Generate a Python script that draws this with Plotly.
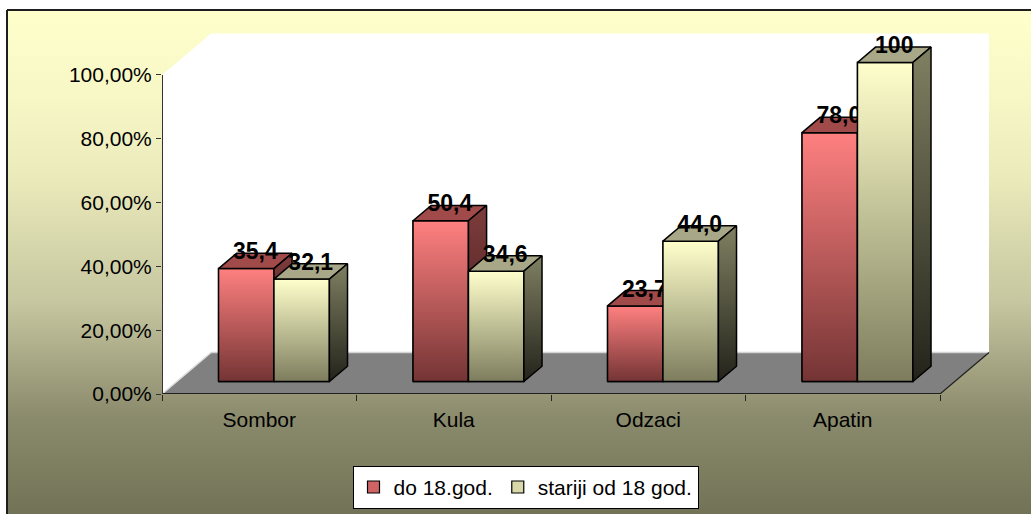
import plotly.graph_objects as go

# ---------------- data ----------------
categories = ["Sombor", "Kula", "Odzaci", "Apatin"]
series_names = ["do 18.god.", "stariji od 18 god."]
under18 = [35.4, 50.4, 23.7, 78.0]
over18 = [32.1, 34.6, 44.0, 100.0]
ytick_vals = [0, 20, 40, 60, 80, 100]
ytick_text = ["0,00%", "20,00%", "40,00%", "60,00%", "80,00%", "100,00%"]

# ---------------- style / geometry ----------------
W, H = 1031, 514
DX = 0.252          # full depth x-offset (category units)
DY = 13.0           # full depth y-offset (% units)
F0, F1 = 0.30, 0.67 # bar front / back depth fractions
BW = 0.285          # bar width (category units)
XR = [-0.5, 3.76]
YR = [0, 113.45]
PX0, PXU = 162, 194.5      # pixel of x=-0.5, pixels per category unit
PY0, PYU = 394, 3.191      # pixel of y=0, pixels per %

FONT = "Liberation Sans, Arial, sans-serif"
LBLFONT = "Liberation Sans Narrow, Arial Narrow, Liberation Sans, Arial, sans-serif"

series = [
    dict(name=series_names[0], values=under18, side=-1,
         front=["#743434", "#FF8080"], top="#A04A4A", sidecol=["#3A1A1A", "#7F3C3C"],
         legend="#D06464"),
    dict(name=series_names[1], values=over18, side=1,
         front=["#7D7D5E", "#FFFFCC"], top="#A8A888", sidecol=["#23231B", "#808062"],
         legend="#D8D8A8"),
]


def fmt(v):
    return "100" if v >= 100 else f"{v:.1f}".replace(".", ",")


fig = go.Figure()

# ---- chart-area background (gradient) on a pixel subplot ----
fig.add_trace(go.Scatter(
    x=[7, 1045, 1045, 7, 7], y=[H - 10, H - 10, -10, -10, H - 10],
    mode="lines", fill="toself",
    line=dict(color="#1E1E1E", width=2),
    fillgradient=dict(type="vertical", start=0, stop=H - 10,
                      colorscale=[[0.0, "#727256"], [0.19, "#8A8A6C"],
                                  [0.42, "#C6C6A0"], [0.66, "#E9E9BA"],
                                  [0.82, "#F7F7C6"], [1.0, "#FFFFCC"]]),
    hoverinfo="skip", showlegend=False, xaxis="x", yaxis="y"))

base = F0 * DY
ddx, ddy = (F1 - F0) * DX, (F1 - F0) * DY

# ---- legend / semantic bars ----
for s in series:
    off = F0 * DX - BW if s["side"] < 0 else F0 * DX
    fig.add_trace(go.Bar(
        x=list(range(len(categories))), y=s["values"], base=[base] * len(categories),
        width=BW, offset=off, name=s["name"],
        marker=dict(color=s["legend"], line=dict(color="black", width=1.2)),
        hoverinfo="skip", xaxis="x2", yaxis="y2"))

# ---- 3D faces drawn over the bars, back-to-front / left-to-right ----
for i in range(len(categories)):
    for s in series:
        v = s["values"][i]
        x0 = i + F0 * DX - BW if s["side"] < 0 else i + F0 * DX
        x1 = x0 + BW
        y0, y1 = base, base + v
        # front face
        fig.add_trace(go.Scatter(
            x=[x0, x1, x1, x0, x0], y=[y0, y0, y1, y1, y0], mode="lines",
            fill="toself", line=dict(color="black", width=1.5),
            fillgradient=dict(type="vertical", colorscale=[[0, s["front"][0]], [1, s["front"][1]]]),
            hoverinfo="skip", showlegend=False, xaxis="x2", yaxis="y2"))
        # top face
        fig.add_trace(go.Scatter(
            x=[x0, x1, x1 + ddx, x0 + ddx, x0], y=[y1, y1, y1 + ddy, y1 + ddy, y1],
            mode="lines", fill="toself", fillcolor=s["top"],
            line=dict(color="black", width=1.5),
            hoverinfo="skip", showlegend=False, xaxis="x2", yaxis="y2"))
        # side face
        fig.add_trace(go.Scatter(
            x=[x1, x1 + ddx, x1 + ddx, x1, x1], y=[y0, y0 + ddy, y1 + ddy, y1, y0],
            mode="lines", fill="toself", line=dict(color="black", width=1.5),
            fillgradient=dict(type="vertical", colorscale=[[0, s["sidecol"][0]], [1, s["sidecol"][1]]]),
            hoverinfo="skip", showlegend=False, xaxis="x2", yaxis="y2"))
        # data label
        fig.add_trace(go.Scatter(
            x=[(x0 + x1) / 2 + ddx / 2], y=[y1 + ddy / 2 + 2.3], mode="text",
            text=[fmt(v)], textposition="middle center",
            textfont=dict(family=LBLFONT, size=23, color="black", weight="bold"),
            hoverinfo="skip", showlegend=False, cliponaxis=False, xaxis="x2", yaxis="y2"))

# ---- walls, floor and axis lines ----
def P(x, y):
    return f"{x},{y}"

xa, xb = -0.5, 3.5
shapes = [
    dict(type="path", xref="x2", yref="y2", layer="below", fillcolor="white", line=dict(width=0),
         path=f"M{P(xa,0)} L{P(xa,100)} L{P(xa+DX,100+DY)} L{P(xa+DX,DY)} Z"),
    dict(type="path", xref="x2", yref="y2", layer="below", fillcolor="white", line=dict(width=0),
         path=f"M{P(xa+DX,DY)} L{P(xb+DX,DY)} L{P(xb+DX,100+DY)} L{P(xa+DX,100+DY)} Z"),
    dict(type="path", xref="x2", yref="y2", layer="below", fillcolor="#808080", line=dict(width=0),
         path=f"M{P(xa,0)} L{P(xb,0)} L{P(xb+DX,DY)} L{P(xa+DX,DY)} Z"),
    dict(type="line", xref="x2", yref="y2", layer="below", x0=xa + DX, y0=DY, x1=xb + DX, y1=DY,
         line=dict(color="#D4D4D4", width=1.5)),
    dict(type="line", xref="x2", yref="y2", layer="below", x0=xa, y0=0, x1=xa + DX, y1=DY,
         line=dict(color="#E0E0E0", width=1.5)),
    dict(type="line", xref="x2", yref="y2", x0=xb, y0=0, x1=xb + DX, y1=DY,
         line=dict(color="#202020", width=1.2)),
    dict(type="line", xref="x2", yref="y2", x0=xa, y0=0, x1=xb, y1=0,
         line=dict(color="#202020", width=2)),
    dict(type="line", xref="x2", yref="y2", x0=xa, y0=0, x1=xa, y1=100,
         line=dict(color="#333333", width=2)),
]

fig.update_layout(
    width=W, height=H,
    margin=dict(l=0, r=0, t=0, b=0, autoexpand=False),
    paper_bgcolor="white", plot_bgcolor="rgba(0,0,0,0)",
    barmode="overlay", hovermode=False,
    shapes=shapes,
    font=dict(family=FONT, size=21, color="black"),
    xaxis=dict(domain=[0, 1], range=[0, W], visible=False, fixedrange=True, automargin=False),
    yaxis=dict(domain=[0, 1], range=[0, H], visible=False, fixedrange=True, automargin=False),
    xaxis2=dict(domain=[PX0 / W, (PX0 + (XR[1] - XR[0]) * PXU) / W], range=XR,
                anchor="y2", showgrid=False, zeroline=False, showline=False, automargin=False,
                tickmode="array", tickvals=list(range(len(categories))), ticktext=categories,
                ticks="outside", ticklen=0, tickfont=dict(family=FONT, size=21, color="black"),
                ticklabelstandoff=7,
                minor=dict(tickmode="array", tickvals=[-0.5, 0.5, 1.5, 2.5, 3.5],
                           ticks="outside", ticklen=6, tickcolor="#222", tickwidth=1.2),
                fixedrange=True),
    yaxis2=dict(domain=[(H - PY0) / H, (H - PY0 + (YR[1] - YR[0]) * PYU) / H], range=YR,
                anchor="x2", showgrid=False, zeroline=False, showline=False, automargin=False,
                tickmode="array", tickvals=ytick_vals, ticktext=ytick_text,
                ticks="outside", ticklen=5, tickcolor="#333", tickwidth=1.2,
                tickfont=dict(family=FONT, size=21, color="black"), fixedrange=True),
    legend=dict(orientation="h", x=0.5097, xanchor="center", y=0.01, yanchor="bottom",
                bgcolor="white", bordercolor="black", borderwidth=1,
                font=dict(family=FONT, size=21, color="black"),
                itemclick=False, itemdoubleclick=False),
)

fig.write_html("out.html", config={"displayModeBar": False},
               post_script="document.body.style.margin='0px';")
